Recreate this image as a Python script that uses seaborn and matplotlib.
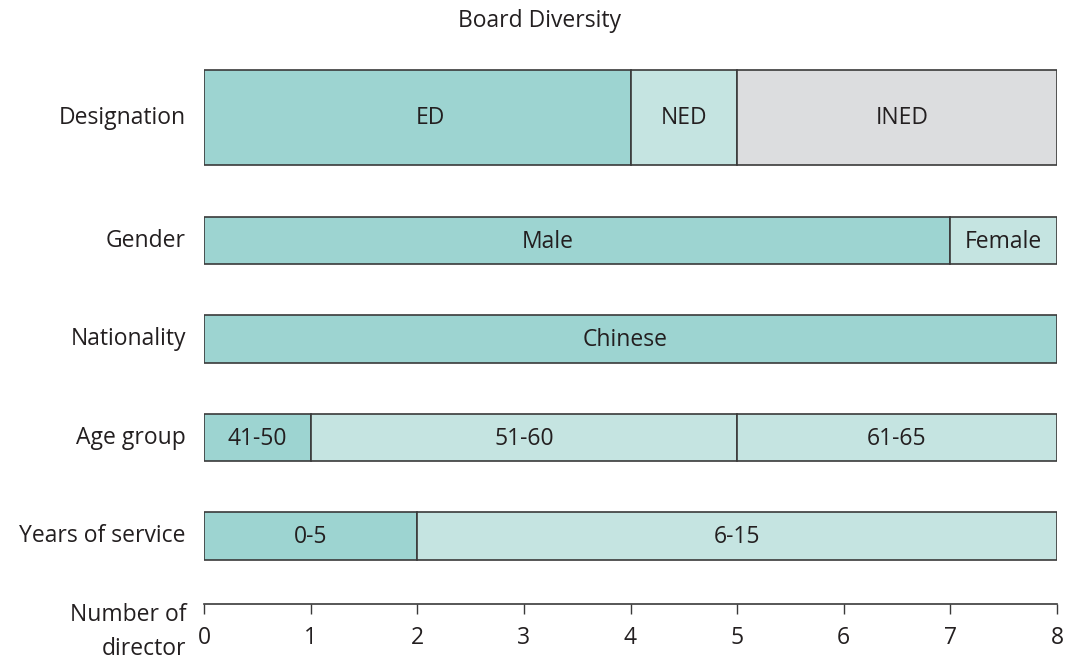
import matplotlib
matplotlib.use("Agg")
import matplotlib.pyplot as plt
import seaborn as sns

# ---- data ----
categories = ["Designation", "Gender", "Nationality", "Age group", "Years of service"]
designation_labels = ["ED", "NED", "INED"]
designation_values = [4, 1, 3]
gender_labels = ["Male", "Female"]
gender_values = [7, 1]
nationality_labels = ["Chinese"]
nationality_values = [8]
age_labels = ["41-50", "51-60", "61-65"]
age_values = [1, 4, 3]
service_labels = ["0-5", "6-15"]
service_values = [2, 6]
x_ticks = [0, 1, 2, 3, 4, 5, 6, 7, 8]

# ---- style ----
TEAL = "#9dd4d1"
LIGHT = "#c5e4e1"
GREY = "#dcdddf"
EDGE = "#3a3a3a"
TXT = "#231f20"
FS = 16.5

segment_colors = [
    [TEAL, LIGHT, GREY],
    [TEAL, LIGHT],
    [TEAL],
    [TEAL, LIGHT, LIGHT],
    [TEAL, LIGHT],
]
# small horizontal nudges of the in-bar labels (layout only)
label_nudge = [
    [0.12, 0, 0.05],
    [-0.28, 0],
    [-0.05],
    [0, 0, 0],
    [0, 0],
]
y_pos = [0, 1.25, 2.25, 3.25, 4.25]
heights = [0.96, 0.48, 0.48, 0.48, 0.48]

sns.set_theme(style="white")
plt.rcParams["font.family"] = ["Open Sans", "DejaVu Sans"]

fig = plt.figure(figsize=(10.65, 6.62), dpi=100)
ax = fig.add_axes([204 / 1065, 58 / 662, 853 / 1065, 544 / 662])

rows = [
    (designation_labels, designation_values),
    (gender_labels, gender_values),
    (nationality_labels, nationality_values),
    (age_labels, age_values),
    (service_labels, service_values),
]

for (labels, values), y, h, cols, nud in zip(rows, y_pos, heights, segment_colors, label_nudge):
    left = 0
    for lab, v, c, n in zip(labels, values, cols, nud):
        ax.barh(y, v, left=left, height=h, color=c, edgecolor=EDGE, linewidth=1.2)
        ax.text(left + v / 2 + n, y + 0.01, lab, ha="center", va="center", fontsize=FS, color=TXT)
        left += v

ax.set_xlim(0, 8)
ax.set_ylim(4.94, -0.584)
ax.set_xticks(x_ticks)
ax.set_xticklabels([str(t) for t in x_ticks], fontsize=FS, color=TXT)
ax.set_yticks(y_pos)
ax.set_yticklabels(categories, fontsize=FS, color=TXT)
for lbl in ax.get_yticklabels():
    lbl.set_verticalalignment("center")
ax.tick_params(axis="y", length=0, pad=13)
ax.tick_params(axis="x", bottom=True, direction="out", length=7, width=1.0, color=EDGE, pad=9)

sns.despine(ax=ax, left=True, top=True, right=True)
ax.spines["bottom"].set_color(EDGE)
ax.spines["bottom"].set_linewidth(1.2)
ax.grid(False)

fig.text(540 / 1065, 1 - 21 / 662, "Board Diversity", ha="center", va="center", fontsize=FS, color=TXT)
fig.text(186 / 1065, 1 - 632 / 662, "Number of\ndirector", ha="right", va="center",
         fontsize=FS, color=TXT, linespacing=1.6)

fig.savefig("out.png", dpi=100, facecolor="white")
